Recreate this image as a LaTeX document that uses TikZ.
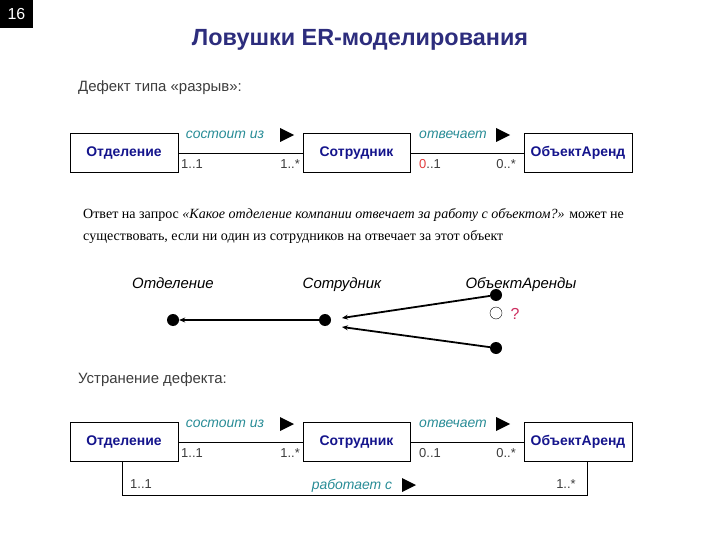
\documentclass[tikz,border=0pt]{standalone}
\usepackage{fontspec}
\setmainfont{Liberation Sans}
\newfontfamily\serifru{Liberation Serif}
\usetikzlibrary{arrows.meta, calc}

\definecolor{titleblue}{RGB}{45,45,125}
\definecolor{boxblue}{RGB}{20,20,140}
\definecolor{rolecol}{RGB}{40,140,150}
\definecolor{multgray}{RGB}{60,60,60}
\definecolor{qred}{RGB}{205,45,95}
\definecolor{zerored}{RGB}{225,60,60}

\newcommand{\roletri}[2]{\fill (#1-7,#2-7) -- (#1+7,#2) -- (#1-7,#2+7) -- cycle;}

\begin{document}
\begin{tikzpicture}[x=1bp, y=-1bp,
  entity/.style={draw, minimum width=108bp, minimum height=39bp, inner sep=0pt, text=boxblue, font=\fontsize{14}{16}\selectfont\bfseries},
  role/.style={inner sep=0pt, text=rolecol, font=\fontsize{14}{16}\selectfont\itshape},
  mult/.style={inner sep=0pt, text=multgray, font=\fontsize{13}{15}\selectfont},
  inst/.style={inner sep=0pt, anchor=base, font=\fontsize{15}{17}\selectfont\itshape},
  dot/.style={circle, fill=black, inner sep=0pt, minimum size=12bp},
  link/.style={line width=1.8bp, -{Stealth[length=6bp,width=5bp]}}]
  \useasboundingbox (0,0) rectangle (720,540);

  \fill (0,0) rectangle (33,28);
  \node[text=white, font=\fontsize{16}{18}\selectfont] (num) at (16.5,14) {16};
  \node[text=titleblue, font=\fontsize{23.5}{27}\selectfont\bfseries] (title) at (360,40) {Ловушки ER-моделирования};
  \node[anchor=west, inner sep=0pt, text=multgray, font=\fontsize{15}{17}\selectfont] (defect) at (78,88) {Дефект типа «разрыв»:};

  \node[entity] (otd1) at (124,153) {Отделение};
  \node[entity, minimum width=107bp] (sotr1) at (356.5,153) {Сотрудник};
  \node[entity] (obj1) at (578,153) {ОбъектАренд};
  \draw (otd1) -- (sotr1);
  \draw (sotr1) -- (obj1);
  \node[role] (sost1) at (225,135) {состоит из};
  \roletri{287}{135}
  \node[role] (otv1) at (453,135) {отвечает};
  \roletri{503}{135}
  \node[mult, anchor=west] (m11) at (181,164) {1..1};
  \node[mult, anchor=east] (m12) at (300,164) {1..*};
  \node[mult, anchor=west] (m13) at (419,164) {\textcolor{zerored}{0}..1};
  \node[mult, anchor=east] (m14) at (516,164) {0..*};

  \node[anchor=west, inner sep=0pt, font=\serifru\fontsize{14.1}{16}\selectfont] (ans1) at (83,215) {Ответ на запрос \textit{«Какое отделение компании отвечает за работу с объектом?»} может не};
  \node[anchor=west, inner sep=0pt, font=\serifru\fontsize{14.1}{16}\selectfont] (ans2) at (83,237) {существовать, если ни один из сотрудников на отвечает за этот объект};

  \node[inst] (iotd) at (173,288) {Отделение};
  \node[inst] (isotr) at (342,288) {Сотрудник};
  \node[inst] (iobj) at (521,288) {ОбъектАренды};
  \node[dot] (d1) at (173,320) {};
  \node[dot] (d2) at (325,320) {};
  \node[dot] (d3) at (496,295) {};
  \node[circle, draw, inner sep=0pt, minimum size=12bp] (d4) at (496,313) {};
  \node[inner sep=0pt, text=qred, font=\fontsize{16}{18}\selectfont] (q) at (515,314) {?};
  \node[dot] (d5) at (496,348) {};
  \coordinate (t1) at (342,318);
  \coordinate (t2) at (342,327);
  \draw[link] (d2) -- (d1);
  \draw[link] (d3) -- (t1);
  \draw[link] (d5) -- (t2);

  \node[anchor=west, inner sep=0pt, text=multgray, font=\fontsize{15}{17}\selectfont] (fix) at (78,380) {Устранение дефекта:};

  \node[entity] (otd2) at (124,442) {Отделение};
  \node[entity, minimum width=107bp] (sotr2) at (356.5,442) {Сотрудник};
  \node[entity] (obj2) at (578,442) {ОбъектАренд};
  \draw (otd2) -- (sotr2);
  \draw (sotr2) -- (obj2);
  \node[role] (sost2) at (225,424) {состоит из};
  \roletri{287}{424}
  \node[role] (otv2) at (453,424) {отвечает};
  \roletri{503}{424}
  \node[mult, anchor=west] (m21) at (181,453) {1..1};
  \node[mult, anchor=east] (m22) at (300,453) {1..*};
  \node[mult, anchor=west] (m23) at (419,453) {0..1};
  \node[mult, anchor=east] (m24) at (516,453) {0..*};

  \coordinate (lnk) at (122,495);
  \draw (otd2.south -| lnk) -- (lnk) -| ([xshift=9bp]obj2.south);
  \node[mult] (m31) at (141,484) {1..1};
  \node[role] (rab) at (352,486) {работает с};
  \roletri{409}{485}
  \node[mult] (m32) at (566,484) {1..*};
\end{tikzpicture}
\end{document}
